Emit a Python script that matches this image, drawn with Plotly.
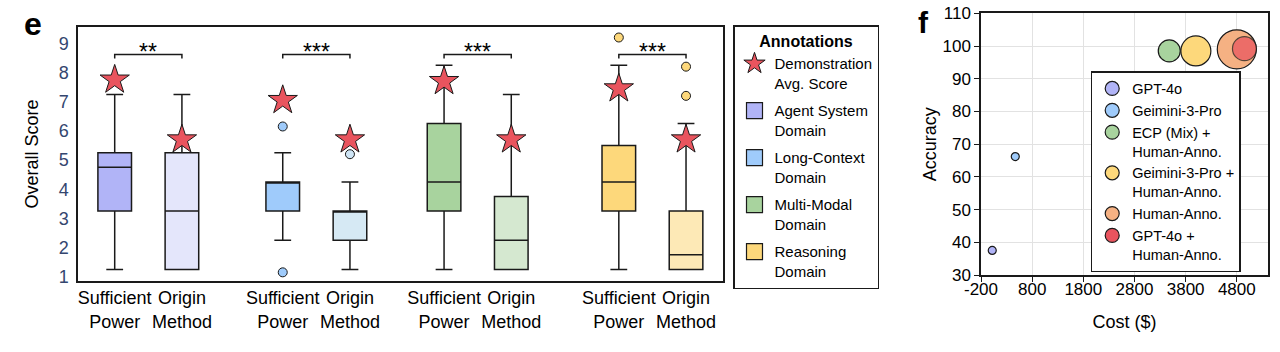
import plotly.graph_objects as go

# ---------------- data: panel e ----------------
domains = ["Agent System", "Long-Context", "Multi-Modal", "Reasoning"]
methods = ["Sufficient<br>Power", "Origin<br>Method"]
box_pos = [1.0, 2.0, 3.5, 4.5, 5.9, 6.9, 8.5, 9.5]
lower_whisker = [1.25, 1.25, 2.25, 1.25, 1.25, 1.25, 1.25, 1.25]
q1 = [3.25, 1.25, 3.25, 2.25, 3.25, 1.25, 3.25, 1.25]
median = [4.75, 3.25, 4.25, 3.25, 4.25, 2.25, 4.25, 1.75]
q3 = [5.25, 5.25, 4.25, 3.25, 6.25, 3.75, 5.5, 3.25]
upper_whisker = [7.25, 7.25, 5.25, 4.25, 8.25, 7.25, 8.25, 6.25]
demo_avg = [7.75, 5.7, 7.05, 5.7, 7.7, 5.7, 7.45, 5.7]
outliers = [[], [], [6.15, 1.15], [5.2], [], [], [9.2], [8.2, 7.2]]
significance = ["**", "***", "***", "***"]
y_ticks = [1, 2, 3, 4, 5, 6, 7, 8, 9]

# ---------------- data: panel f ----------------
models = ["GPT-4o", "Geimini-3-Pro", "ECP (Mix) +<br>Human-Anno.",
          "Geimini-3-Pro +<br>Human-Anno.", "Human-Anno.", "GPT-4o +<br>Human-Anno."]
cost = [20, 470, 3480, 4000, 4800, 4950]
accuracy = [37.5, 66.2, 98.5, 98.5, 99.0, 99.2]
bubble_size = [8, 8, 22, 30, 39, 24]
cost_ticks = [-200, 800, 1800, 2800, 3800, 4800]
acc_ticks = [30, 40, 50, 60, 70, 80, 90, 100, 110]

# ---------------- styles ----------------
FONT = "Liberation Sans, Arial, sans-serif"
dark = ["#b1b4f7", "#9fcbfb", "#a8d39e", "#fdd87b"]
light = ["#e4e6fb", "#d6e9f4", "#d5e8d0", "#fde9b6"]
star_color = "#e9545e"
bubble_colors = ["#b1b4f7", "#9fcbfb", "#a8d39e", "#fdd87b", "#f5b183", "#e9545e"]
bubble_opacity = [1, 1, 1, 1, 1, 0.72]
EDGE = "#1a1a1a"

fig = go.Figure()

# boxes
for i, x in enumerate(box_pos):
    d = i // 2
    fill = dark[d] if i % 2 == 0 else light[d]
    fig.add_trace(go.Box(
        x=[x], q1=[q1[i]], median=[median[i]], q3=[q3[i]],
        lowerfence=[lower_whisker[i]], upperfence=[upper_whisker[i]],
        width=0.5, whiskerwidth=0.5, boxpoints=False,
        fillcolor=fill, line=dict(color=EDGE, width=1.5),
        showlegend=False, hoverinfo="skip", xaxis="x", yaxis="y"))
    if outliers[i]:
        ocol = dark[d] if not (d == 1 and i % 2 == 1) else "#cfe5f5"
        fig.add_trace(go.Scatter(
            x=[x] * len(outliers[i]), y=outliers[i], mode="markers",
            marker=dict(size=9, color=ocol, line=dict(color=EDGE, width=1)),
            showlegend=False, hoverinfo="skip", xaxis="x", yaxis="y"))

# stars
fig.add_trace(go.Scatter(
    x=box_pos, y=demo_avg, mode="markers", name="Demonstration<br>Avg. Score",
    marker=dict(symbol="star", size=22, color=star_color, line=dict(color=EDGE, width=1)),
    legend="legend", legendgroup="star", xaxis="x", yaxis="y"))

# legend squares for domains
for d, name in enumerate(domains):
    fig.add_trace(go.Scatter(
        x=[None], y=[None], mode="markers", name=f"{name}<br>Domain",
        marker=dict(symbol="square", size=16, color=dark[d], line=dict(color=EDGE, width=1.2)),
        legend="legend", legendgroup=f"dom{d}", xaxis="x", yaxis="y"))

# significance brackets
bracket_y = 8.62
drop = 0.14
for g, s in enumerate(significance):
    xa, xb = box_pos[2 * g], box_pos[2 * g + 1]
    fig.add_shape(type="path", xref="x", yref="y",
                  path=f"M {xa},{bracket_y - drop} L {xa},{bracket_y} L {xb},{bracket_y} L {xb},{bracket_y - drop}",
                  line=dict(color=EDGE, width=1.5))
    fig.add_annotation(x=(xa + xb) / 2, y=bracket_y, xref="x", yref="y", text=s,
                       showarrow=False, yanchor="bottom", yshift=-13,
                       font=dict(family=FONT, size=23, color="black"))

# bubbles
for i, m in enumerate(models):
    fig.add_trace(go.Scatter(
        x=[cost[i]], y=[accuracy[i]], mode="markers", name=m,
        marker=dict(size=bubble_size[i], color=bubble_colors[i], opacity=bubble_opacity[i],
                    line=dict(color=EDGE, width=1.2)),
        showlegend=False, xaxis="x2", yaxis="y2"))
for i, m in enumerate(models):
    fig.add_trace(go.Scatter(
        x=[None], y=[None], mode="markers", name=m,
        marker=dict(size=14, color=bubble_colors[i], line=dict(color=EDGE, width=1.2)),
        legend="legend2", xaxis="x2", yaxis="y2"))

W, H = 1280, 352
fig.update_layout(
    template="none",
    width=W, height=H, margin=dict(l=0, r=0, t=0, b=0, pad=0),
    paper_bgcolor="white", plot_bgcolor="white",
    font=dict(family=FONT, size=16, color="black"),
    xaxis=dict(domain=[78 / W, 723 / W], range=[0.454, 10.05], automargin=False,
               tickvals=box_pos, ticktext=methods * 4, ticks="", tickangle=0,
               tickfont=dict(size=18), showgrid=False, zeroline=False,
               showline=True, mirror=True, linecolor=EDGE, linewidth=1.5),
    yaxis=dict(domain=[1 - 281 / H, 1 - 27 / H], range=[0.853, 9.56], automargin=False,
               tickvals=y_ticks, ticks="", tickfont=dict(size=18, color="#34466f"),
               ticklabelstandoff=4,
               showgrid=False, zeroline=False, showline=True, mirror=True,
               linecolor=EDGE, linewidth=1.5,
               title=dict(text="Overall Score", font=dict(size=18), standoff=15)),
    xaxis2=dict(domain=[981 / W, 1268 / W], range=[-200, 5410], tickvals=cost_ticks,
                ticktext=[str(v) for v in cost_ticks],
                automargin=False, ticklabelstandoff=-7,
                ticks="outside", ticklen=5, tickcolor=EDGE, tickfont=dict(size=17),
                showgrid=True, gridcolor="#e2e2e2", zeroline=False,
                showline=True, mirror=True, linecolor=EDGE, linewidth=1.5,
                anchor="y2",
                title=dict(text="Cost ($)", font=dict(size=18), standoff=17)),
    yaxis2=dict(domain=[1 - 275 / H, 1 - 13.3 / H], range=[30, 110], tickvals=acc_ticks,
                automargin=False,
                ticks="outside", ticklen=5, tickcolor=EDGE, tickfont=dict(size=17),
                showgrid=True, gridcolor="#e2e2e2", zeroline=False,
                showline=True, mirror=True, linecolor=EDGE, linewidth=1.5,
                anchor="x2",
                title=dict(text="Accuracy", font=dict(size=18), standoff=1)),
    legend=dict(x=733 / W, y=1 - 25 / H, xanchor="left", yanchor="top",
                bordercolor=EDGE, borderwidth=1.5, bgcolor="white",
                font=dict(size=15), valign="top", tracegroupgap=5,
                title=dict(text="<b>Annotations</b>", side="top center", font=dict(size=16))),
    legend2=dict(x=1090.7 / W, y=1 - 71 / H, xanchor="left", yanchor="top",
                 bordercolor=EDGE, borderwidth=1.5, bgcolor="white",
                 font=dict(size=14.5), valign="top"),
    showlegend=True,
)

fig.add_annotation(x=33 / W, y=1 - 24 / H, xref="paper", yref="paper", text="<b>e</b>",
                   xanchor="center", yanchor="middle",
                   showarrow=False, font=dict(size=32, color="black"))
fig.add_annotation(x=923 / W, y=1 - 22 / H, xref="paper", yref="paper", text="<b>f</b>",
                   xanchor="center", yanchor="middle",
                   showarrow=False, font=dict(size=30, color="black"))

fig.write_html("out.html")
